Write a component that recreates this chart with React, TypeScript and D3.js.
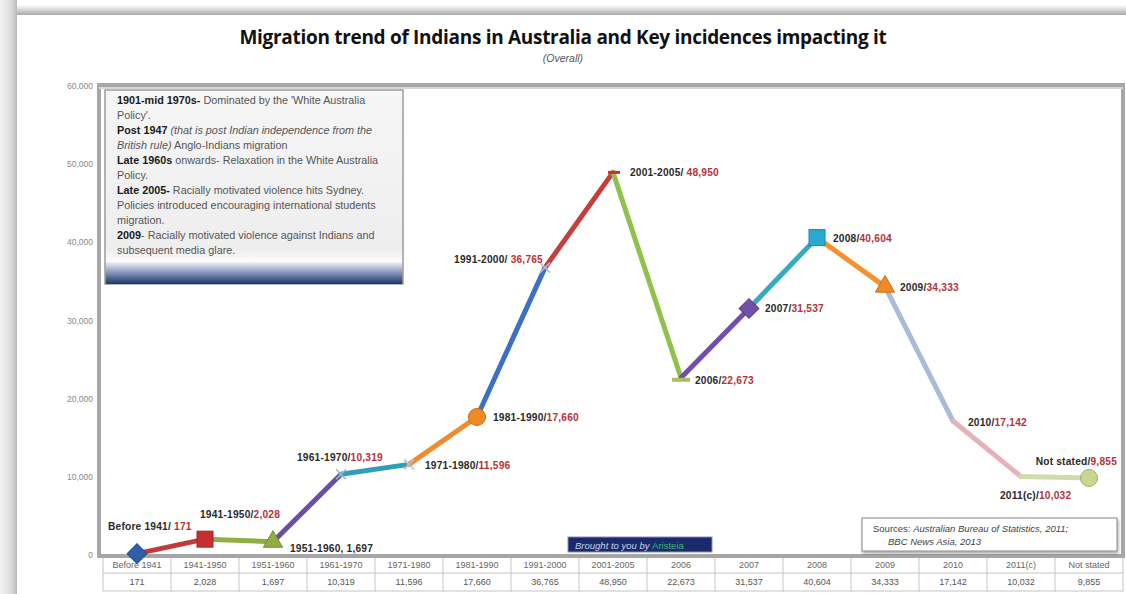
import React from "react";
import * as d3 from "d3";

const categories = ["Before 1941","1941-1950","1951-1960","1961-1970","1971-1980","1981-1990","1991-2000","2001-2005","2006","2007","2008","2009","2010","2011(c)","Not stated"];
const values = [171,2028,1697,10319,11596,17660,36765,48950,22673,31537,40604,34333,17142,10032,9855];
const labelSeparators = ["/ ","/",", ","/","/","/","/ ","/ ","/","/","/","/","/","/","/"];
const yTicks = [0,10000,20000,30000,40000,50000,60000];

const segColors = ["#c43a3a","#8fae45","#6c4fa0","#2f9fb8","#f08c30","#3c70c4","#c83c3c","#8fc24c","#7050aa","#35aac4","#f5922e","#a8bcd8","#e8b0b8","#cddca8"];
const markerTypes = ["diamond","square","triangle","x","x","circle","x","dash","greendash","diamond","square","triangle","none","none","circle"];
const markerColors = ["#2f5fa8","#c43030","#8fae45","#9ab8dc","#b0c4e0","#f08a24","#a8c0e0","#c43030","#a8c060","#7050aa","#2aa8d0","#f08a24","#e0b0b8","#d8d8d8","#c8d890"];
const labelOffsets: [number, number, string][] = [
  [-29,-24,"start"],[-5,-21,"start"],[17,10,"start"],[-44,-13,"start"],[16,5,"start"],[16,4,"start"],[-2,-5,"end"],[17,4,"start"],[14,6,"start"],[16,4,"start"],[16,4,"start"],[15,4,"start"],[15,5,"start"],[-21,22,"start"],[28,-13,"end"]
];

type Seg = { t: string; s: "b" | "n" | "i" };
const noteLines: Seg[][] = [
  [{t:"1901-mid 1970s-",s:"b"},{t:" Dominated by the 'White Australia",s:"n"}],
  [{t:"Policy'.",s:"n"}],
  [{t:"Post 1947",s:"b"},{t:" (that is post Indian independence from the",s:"i"}],
  [{t:"British rule)",s:"i"},{t:" Anglo-Indians migration",s:"n"}],
  [{t:"Late 1960s",s:"b"},{t:" onwards- Relaxation in the White Australia",s:"n"}],
  [{t:"Policy.",s:"n"}],
  [{t:"Late 2005-",s:"b"},{t:" Racially motivated violence hits Sydney.",s:"n"}],
  [{t:"Policies introduced encouraging international students",s:"n"}],
  [{t:"migration.",s:"n"}],
  [{t:"2009",s:"b"},{t:"- Racially motivated violence  against Indians and",s:"n"}],
  [{t:"subsequent media glare.",s:"n"}],
];

const W = 1126, H = 594;
const fmt = d3.format(",");

function Marker({ type, x, y, color }: { type: string; x: number; y: number; color: string }) {
  const dark = type === "none" ? color : d3.color(color)!.darker(0.6).toString();
  switch (type) {
    case "diamond":
      return <rect x={-7} y={-7} width={14} height={14} transform={`translate(${x},${y}) rotate(45)`} fill={color} stroke={dark} strokeWidth={1} />;
    case "square":
      return <rect x={x - 8} y={y - 8} width={16} height={16} fill={color} stroke={dark} strokeWidth={1} />;
    case "triangle":
      return <path d={d3.symbol(d3.symbolTriangle, 160)() || ""} transform={`translate(${x},${y})`} fill={color} stroke={dark} strokeWidth={1} />;
    case "circle":
      return <circle cx={x} cy={y} r={8.5} fill={color} stroke={dark} strokeWidth={1} />;
    case "x":
      return <path d={`M${x - 5},${y - 5}L${x + 5},${y + 5}M${x - 5},${y + 5}L${x + 5},${y - 5}`} stroke={color} strokeWidth={1.5} />;
    case "dash":
      return <line x1={x - 5} x2={x + 7} y1={y} y2={y} stroke={color} strokeWidth={3} />;
    case "greendash":
      return <line x1={x - 9} x2={x + 9} y1={y + 2} y2={y + 2} stroke={color} strokeWidth={4} />;
    default:
      return null;
  }
}

export default function App() {
  const x = d3.scaleBand<string>().domain(categories).range([103, 1123]);
  const bw = x.bandwidth();
  const cx = (c: string) => (x(c) as number) + bw / 2;
  const y = d3.scaleLinear().domain([0, 60000]).range([555, 86]);
  const pts = categories.map((c, i) => [cx(c), y(values[i])] as [number, number]);
  const lineGen = d3.line();

  const font = "'Liberation Sans', Arial, sans-serif";

  return (
    <svg width={W} height={H} style={{ position: "absolute", left: 0, top: 0, background: "#fff" }} fontFamily={font}>
      <defs>
        <linearGradient id="leftG" x1="0" x2="1" y1="0" y2="0">
          <stop offset="0" stopColor="#f4f4f4" />
          <stop offset="0.7" stopColor="#d8d8d8" />
          <stop offset="1" stopColor="#b8b8b8" />
        </linearGradient>
        <linearGradient id="topG" x1="0" x2="0" y1="0" y2="1">
          <stop offset="0" stopColor="#ffffff" />
          <stop offset="1" stopColor="#a8a8a8" />
        </linearGradient>
        <linearGradient id="boxG" x1="0" x2="0" y1="0" y2="1">
          <stop offset="0" stopColor="#f6f6f6" />
          <stop offset="0.82" stopColor="#eeeeee" />
          <stop offset="0.9" stopColor="#ffffff" />
          <stop offset="1" stopColor="#1e3a72" />
        </linearGradient>
        <linearGradient id="bandG" x1="0" x2="0" y1="0" y2="1">
          <stop offset="0" stopColor="#f2f2f8" />
          <stop offset="0.45" stopColor="#8a9cc0" />
          <stop offset="1" stopColor="#1c3668" />
        </linearGradient>
        <filter id="sh" x="-5%" y="-5%" width="110%" height="120%">
          <feDropShadow dx="1" dy="2" stdDeviation="1.5" floodColor="#000" floodOpacity="0.35" />
        </filter>
      </defs>

      {/* page frame */}
      <rect x={0} y={0} width={W} height={H} fill="#fff" />
      <rect x={0} y={0} width={17} height={H} fill="url(#leftG)" />
      <rect x={17} y={5} width={W - 17} height={10} fill="url(#topG)" />
      <rect x={17} y={15} width={W - 17} height={H - 15} fill="#fff" />

      {/* title */}
      <text x={563} y={44} textAnchor="middle" fontFamily="'Open Sans', sans-serif" fontWeight={700} fontSize={19} fill="#111" letterSpacing={-0.3}>
        Migration trend of Indians in Australia and Key incidences impacting it
      </text>
      <text x={563} y={62} textAnchor="middle" fontStyle="italic" fontSize={10.5} fill="#555">(Overall)</text>

      {/* y axis labels */}
      {yTicks.map((t) => (
        <text key={t} x={93} y={y(t) + 3} textAnchor="end" fontSize={8.5} fill="#888">{fmt(t)}</text>
      ))}

      {/* data table */}
      <g>
        <rect x={103} y={557} width={1020} height={34} fill="#fff" stroke="#c4c4c4" strokeWidth={1} />
        <line x1={103} x2={1123} y1={573} y2={573} stroke="#c4c4c4" />
        {categories.map((c, i) => (
          <g key={c}>
            {i > 0 && <line x1={x(c)} x2={x(c)} y1={557} y2={591} stroke="#c4c4c4" />}
            <text x={cx(c)} y={568} textAnchor="middle" fontSize={9} fill="#666">{c}</text>
            <text x={cx(c)} y={585} textAnchor="middle" fontSize={9} fill="#555">{fmt(values[i])}</text>
          </g>
        ))}
      </g>

      {/* plot frame */}
      <rect x={99} y={85} width={1024} height={471} fill="none" stroke="#a6a6a6" strokeWidth={4} />
      <line x1={99} x2={1123} y1={88} y2={88} stroke="#d6d6d6" strokeWidth={2} />

      {/* notes box */}
      <g>
        <rect x={105} y={90} width={298} height={194} fill="url(#boxG)" stroke="#9a9a9a" strokeWidth={1.5} />
        <rect x={106} y={262} width={296} height={22} fill="url(#bandG)" />
        {noteLines.map((ln, i) => (
          <text key={i} x={117} y={104 + i * 15} fontSize={10.8} fill="#555">
            {ln.map((s, j) => (
              <tspan key={j} fontWeight={s.s === "b" ? 700 : 400} fontStyle={s.s === "i" ? "italic" : "normal"} fill={s.s === "b" ? "#1a1a1a" : "#555"}>{s.t}</tspan>
            ))}
          </text>
        ))}
      </g>

      {/* segments */}
      {pts.slice(0, -1).map((p, i) => (
        <path key={i} d={lineGen([p, pts[i + 1]]) || ""} stroke={segColors[i]} strokeWidth={5} strokeLinecap="round" fill="none" />
      ))}

      {/* markers */}
      {pts.map((p, i) => (
        <Marker key={i} type={markerTypes[i]} x={p[0]} y={p[1]} color={markerColors[i]} />
      ))}

      {/* labels */}
      {pts.map((p, i) => {
        const [dx, dy, anchor] = labelOffsets[i];
        const plain = labelSeparators[i] === ", ";
        return (
          <text key={i} x={p[0] + dx} y={p[1] + dy} textAnchor={anchor} fontSize={10.2} fontWeight={700} fill="#2a2a2a" letterSpacing={0.2}>
            <tspan>{categories[i]}{labelSeparators[i]}</tspan>
            <tspan fill={plain ? "#2a2a2a" : "#b5323a"}>{fmt(values[i])}</tspan>
          </text>
        );
      })}

      {/* brought to you */}
      <rect x={568} y={537} width={144} height={15} fill="#1a2a6a" stroke="#8890b0" strokeWidth={1} />
      <text x={575} y={548.5} fontSize={9.5} fontStyle="italic" fill="#c8d0f0">
        Brought to you by <tspan fill="#3cb878" fontStyle="normal">Aristeia</tspan>
      </text>

      {/* sources box */}
      <rect x={862} y={518} width={255} height={33} fill="#fff" stroke="#888" strokeWidth={1} filter="url(#sh)" />
      <text x={873} y={532} fontSize={9.5} fill="#444">
        Sources: <tspan fontStyle="italic">Australian Bureau of Statistics, 2011;</tspan>
      </text>
      <text x={888} y={545} fontSize={9.5} fill="#444" fontStyle="italic">BBC News Asia, 2013</text>
    </svg>
  );
}
